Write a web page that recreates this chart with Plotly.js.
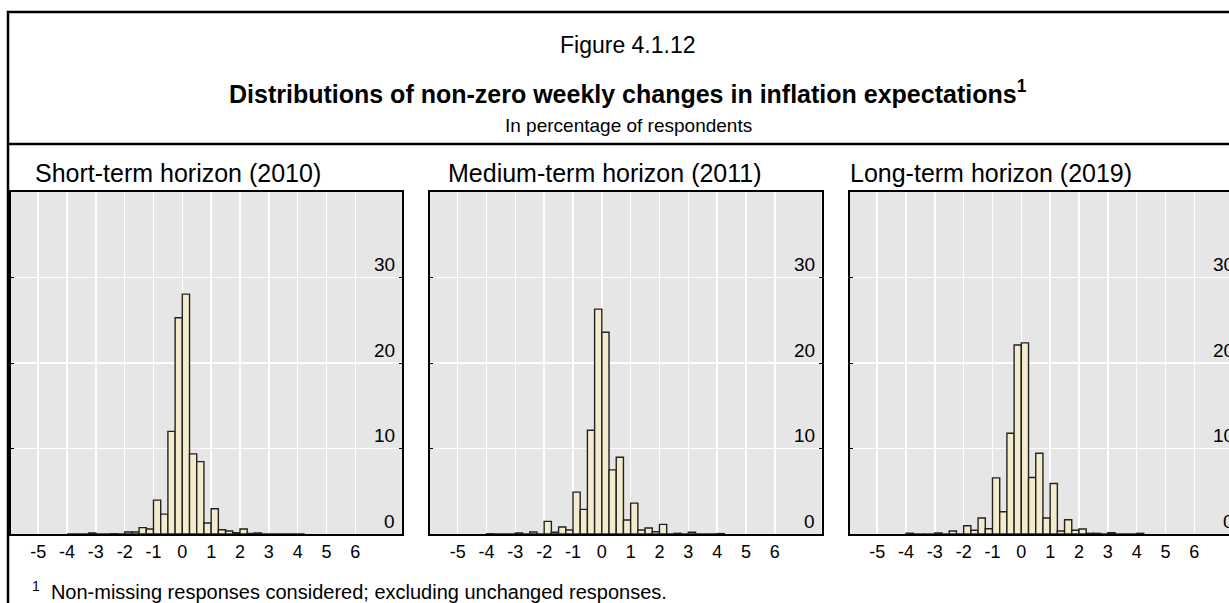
<!DOCTYPE html>
<html>
<head>
<meta charset="utf-8">
<script src="https://cdn.plot.ly/plotly-3.0.1.min.js"></script>
<style>
html,body{margin:0;padding:0;overflow:hidden;background:#fff;}
#chart{width:1256px;height:603px;}
</style>
</head>
<body>
<div id="chart"></div>
<script>
// ---- data ----
const binCenters = [-3.875,-3.625,-3.375,-3.125,-2.875,-2.625,-2.375,-2.125,-1.875,-1.625,-1.375,-1.125,
  -0.875,-0.625,-0.375,-0.125,0.125,0.375,0.625,0.875,1.125,1.375,1.625,1.875,2.125,2.375,2.625,2.875,
  3.125,3.375,3.625,3.875,4.125];
const shortTerm2010 = [0,0,0,0.12,0,0,0.04,0,0.23,0.23,0.74,0.58,
  3.96,2.33,12.0,25.3,28.05,9.37,8.47,1.28,2.95,0.5,0.35,0.16,0.58,0.05,0.12,0,
  0,0,0,0,0];
const mediumTerm2011 = [0.03,0,0,0,0.12,0,0.23,0,1.48,0.2,0.82,0.47,
  4.9,2.88,12.13,26.3,23.6,7.5,8.98,1.63,3.61,0.47,0.7,0.27,1.13,0,0.08,0,
  0.2,0,0,0,0.05];
const longTerm2019 = [0.08,0,0,0,0.12,0,0.35,0,0.97,0.43,1.87,0.62,
  6.57,2.6,11.78,22.1,22.35,6.6,9.44,1.87,5.9,0.35,1.67,0.43,0.58,0.08,0.08,0,
  0.15,0,0,0,0.08];
const xTickVals = [-5,-4,-3,-2,-1,0,1,2,3,4,5,6];
const xTickText = ['-5','-4','-3','-2','-1','0','1','2','3','4','5','6'];
const yTickVals = [0,10,20,30];
const yTickText = ['0','10','20','30'];
const panelTitles = ['Short-term horizon (2010)','Medium-term horizon (2011)','Long-term horizon (2019)'];
const figureNumber = 'Figure 4.1.12';
const mainTitle = 'Distributions of non-zero weekly changes in inflation expectations<sup>1</sup>';
const subTitle = 'In percentage of respondents';
const footnote = '<sup>1</sup>  Non-missing responses considered; excluding unchanged responses.';

// ---- layout helpers ----
const W = 1256, H = 603;
const FONT = 'Arial, "Liberation Sans", sans-serif';
const px = v => v / W;
const py = v => 1 - v / H;

const panelsPx = [[10.5, 402], [430, 821.5], [849.5, 1241]];
const titleLeftPx = [33, 446, 848];
const series = [shortTerm2010, mediumTerm2011, longTerm2019];

const traces = series.map((vals, i) => ({
  type: 'bar',
  x: binCenters,
  y: vals,
  width: 0.25,
  xaxis: i === 0 ? 'x' : 'x' + (i + 1),
  yaxis: i === 0 ? 'y' : 'y' + (i + 1),
  marker: {color: '#F3EBCB', line: {color: '#222222', width: 1.4}},
  hoverinfo: 'x+y',
  showlegend: false
}));

const layout = {
  width: W, height: H,
  margin: {l: 0, r: 0, t: 0, b: 0, pad: 0},
  paper_bgcolor: '#ffffff',
  plot_bgcolor: '#E6E6E6',
  font: {family: FONT, color: '#000'},
  showlegend: false,
  shapes: [
    {type: 'rect', xref: 'paper', yref: 'paper', x0: px(8), x1: px(1248), y0: -0.1, y1: py(12),
     line: {color: '#000', width: 2.5}, layer: 'above'},
    {type: 'line', xref: 'paper', yref: 'paper', x0: px(8), x1: px(1248), y0: py(144), y1: py(144),
     line: {color: '#000', width: 2.5}, layer: 'above'}
  ],
  annotations: [
    {xref: 'paper', yref: 'paper', x: px(628), y: py(45), text: figureNumber, showarrow: false,
     xanchor: 'center', yanchor: 'middle', font: {size: 23, family: FONT, color: '#000'}},
    {xref: 'paper', yref: 'paper', x: px(628), y: py(92), text: '<b>' + mainTitle + '</b>', showarrow: false,
     xanchor: 'center', yanchor: 'middle', font: {size: 25, family: FONT, color: '#000'}},
    {xref: 'paper', yref: 'paper', x: px(628), y: py(125), text: subTitle, showarrow: false,
     xanchor: 'center', yanchor: 'middle', font: {size: 19, family: FONT, color: '#000'}},
    {xref: 'paper', yref: 'paper', x: px(30), y: py(590), text: footnote, showarrow: false,
     xanchor: 'left', yanchor: 'middle', font: {size: 20, family: FONT, color: '#000'}}
  ]
};

panelTitles.forEach((t, i) => {
  layout.annotations.push({xref: 'paper', yref: 'paper', x: px(titleLeftPx[i]), y: py(173), text: t,
    showarrow: false, xanchor: 'left', yanchor: 'middle', font: {size: 25, family: FONT, color: '#000'}});
});

panelsPx.forEach((p, i) => {
  const sfx = i === 0 ? '' : String(i + 1);
  layout['xaxis' + sfx] = {
    domain: [px(p[0]), px(p[1])],
    range: [-5.96, 7.62],
    anchor: 'y' + sfx,
    tickmode: 'array', tickvals: xTickVals, ticktext: xTickText,
    ticks: '', showgrid: true, gridcolor: '#ffffff', gridwidth: 1.5,
    zeroline: false, showline: true, linecolor: '#000', linewidth: 2, mirror: true,
    tickfont: {size: 18, family: FONT, color: '#000'}, fixedrange: true
  };
  layout['yaxis' + sfx] = {
    domain: [1 - 534 / H, 1 - 192 / H],
    range: [0, 40],
    anchor: 'x' + sfx,
    side: 'right',
    tickmode: 'array', tickvals: yTickVals, ticktext: yTickText,
    showticklabels: false, ticks: 'inside', ticklen: 3, tickcolor: '#000', tickwidth: 1,
    showgrid: true, gridcolor: '#ffffff', gridwidth: 1.5,
    zeroline: false, showline: true, linecolor: '#000', linewidth: 2, mirror: 'ticks',
    fixedrange: true
  };
  // y tick labels drawn inside the plot, just above each gridline
  yTickVals.forEach((v, k) => {
    layout.annotations.push({
      xref: 'x' + sfx + ' domain', yref: 'y' + sfx, x: 1, y: v, text: yTickText[k],
      showarrow: false, xanchor: 'right', yanchor: 'middle', xshift: -5, yshift: 13,
      font: {size: 19, family: FONT, color: '#000'}
    });
  });
});

Plotly.newPlot('chart', traces, layout, {staticPlot: true, displayModeBar: false});
</script>
</body>
</html>
